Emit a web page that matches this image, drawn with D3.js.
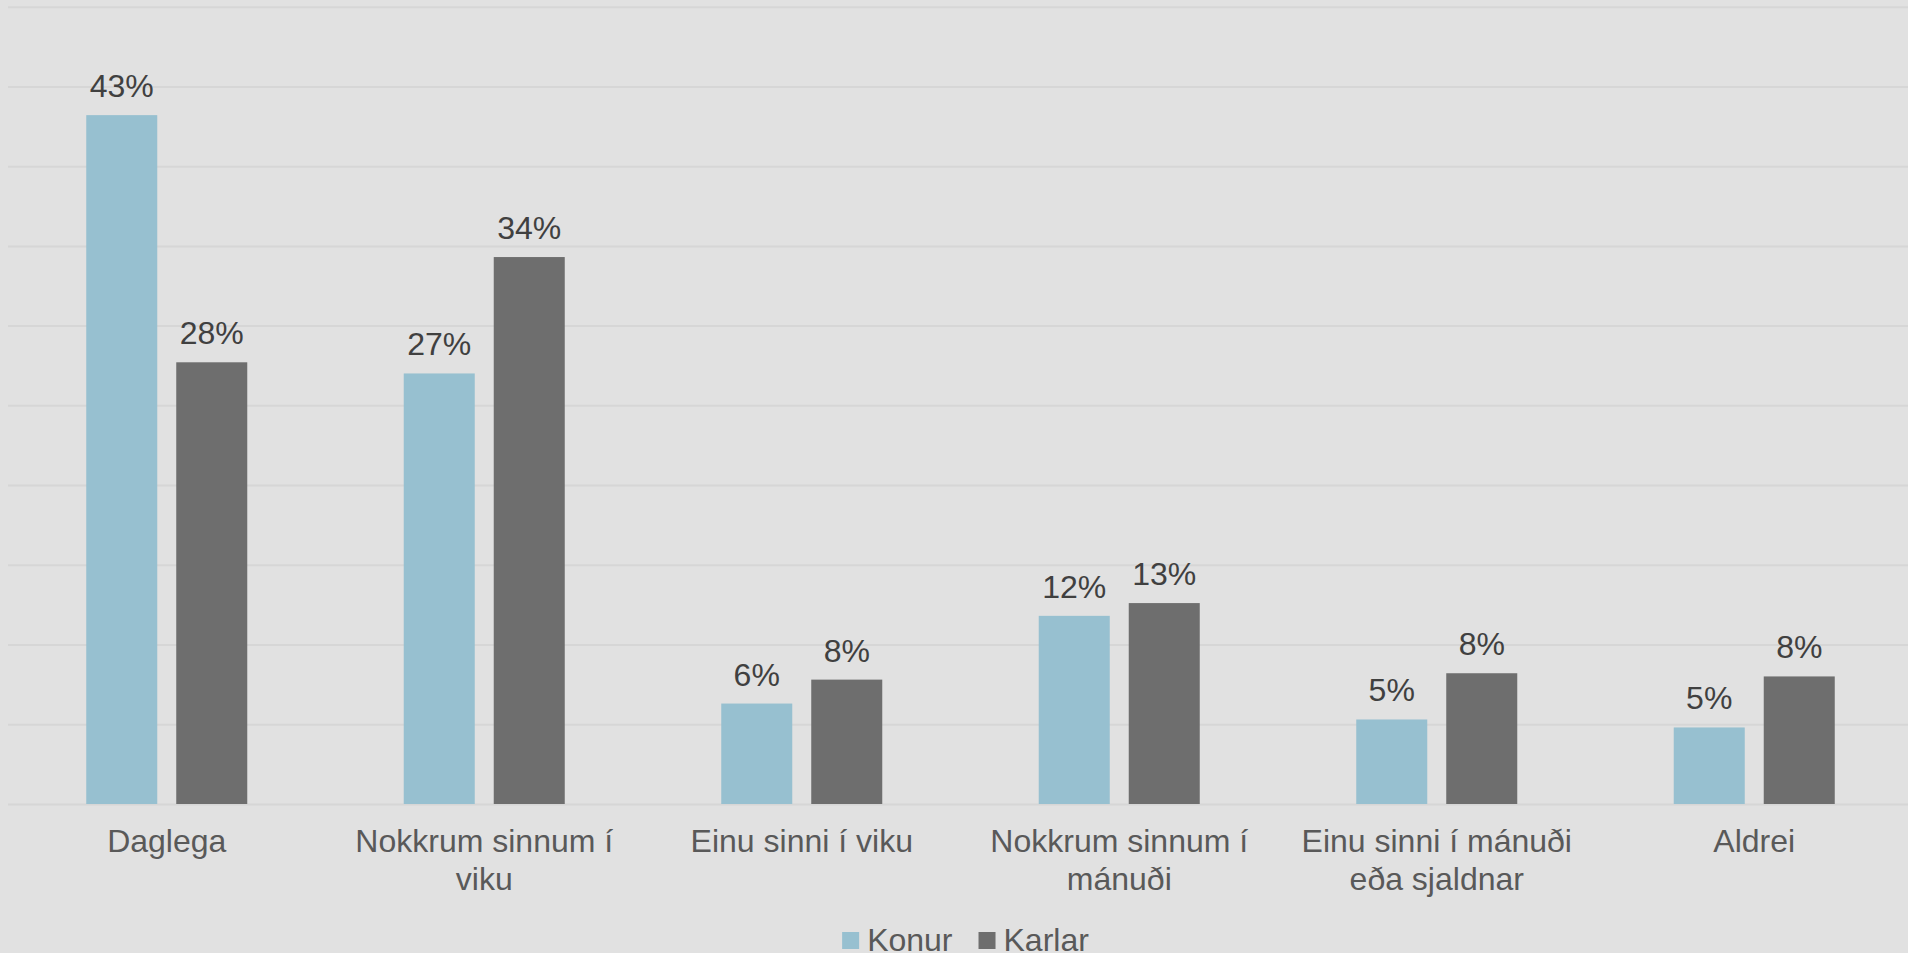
<!DOCTYPE html>
<html>
<head>
<meta charset="utf-8">
<script src="https://cdn.jsdelivr.net/npm/d3@7"></script>
<style>
  html, body { margin: 0; padding: 0; background: #e1e1e1; overflow: hidden; }
  svg { display: block; font-family: "Liberation Sans", Arial, sans-serif; }
</style>
</head>
<body>
<div id="chart"></div>
<script>
var width = 1908,
    height = 953;

// data (percent)
var categories = ['Daglega', 'Nokkrum sinnum í viku', 'Einu sinni í viku',
                  'Nokkrum sinnum í mánuði', 'Einu sinni í mánuði eða sjaldnar', 'Aldrei'];
var seriesNames = ['Konur', 'Karlar'];
var konur = [43.2, 27.0, 6.3, 11.8, 5.3, 4.8];
var karlar = [27.7, 34.3, 7.8, 12.6, 8.2, 8.0];
var yTicks = [0, 5, 10, 15, 20, 25, 30, 35, 40, 45, 50];

var colors = { Konur: '#97c0d0', Karlar: '#6e6e6e' };

var rows = categories.map(function(c, i) {
  return { cat: c, Konur: konur[i], Karlar: karlar[i] };
});

var plotLeft = 8, plotRight = 1913, plotTop = 6.7, plotBottom = 804;
var fontSize = '32px';

var x0 = d3.scaleBand()
    .domain(categories)
    .range([plotLeft, plotRight])
    .paddingInner(0)
    .paddingOuter(0);

var x1 = d3.scaleBand()
    .domain(seriesNames)
    .range([0, x0.bandwidth()])
    .paddingInner(0.2111)
    .paddingOuter(0.8694);

var y = d3.scaleLinear()
    .domain([0, 50])
    .range([plotBottom, plotTop]);

var svg = d3.select('#chart').append('svg')
    .attr('width', width)
    .attr('height', height);

svg.append('rect')
    .attr('width', width)
    .attr('height', height)
    .attr('fill', '#e1e1e1');

// gridlines
var grid = svg.append('g')
    .attr('transform', 'translate(' + plotLeft + ',0)')
    .call(d3.axisLeft(y)
      .tickValues(yTicks)
      .tickSize(-(width - plotLeft))
      .tickFormat(''));
grid.select('.domain').remove();
grid.selectAll('.tick line')
    .attr('stroke', '#d6d6d6')
    .attr('stroke-width', 2);

// bars
var groups = svg.selectAll('.grp')
    .data(rows)
    .enter().append('g')
    .attr('class', 'grp')
    .attr('transform', function(d) { return 'translate(' + x0(d.cat) + ',0)'; });

groups.selectAll('rect')
    .data(function(d) { return seriesNames.map(function(s) { return { key: s, value: d[s] }; }); })
    .enter().append('rect')
    .attr('x', function(d) { return x1(d.key); })
    .attr('y', function(d) { return y(d.value); })
    .attr('width', x1.bandwidth())
    .attr('height', function(d) { return plotBottom - y(d.value); })
    .attr('fill', function(d) { return colors[d.key]; });

// value labels
groups.selectAll('.val')
    .data(function(d) { return seriesNames.map(function(s) { return { key: s, value: d[s] }; }); })
    .enter().append('text')
    .attr('class', 'val')
    .attr('x', function(d) { return x1(d.key) + x1.bandwidth() / 2; })
    .attr('y', function(d) { return y(d.value) - 18; })
    .attr('text-anchor', 'middle')
    .attr('font-size', fontSize)
    .attr('fill', '#404040')
    .text(function(d) { return Math.round(d.value) + '%'; });

// category labels
var xAxis = svg.append('g')
    .attr('transform', 'translate(0,' + plotBottom + ')')
    .call(d3.axisBottom(x0).tickSize(0).tickPadding(0));
xAxis.select('.domain').remove();
xAxis.selectAll('.tick text')
    .attr('font-size', fontSize)
    .attr('font-family', '"Liberation Sans", Arial, sans-serif')
    .attr('fill', '#595959')
    .attr('dy', null)
    .attr('y', 48)
    .call(wrap, 295);

function wrap(text, w) {
  text.each(function() {
    var t = d3.select(this),
        words = t.text().split(/\s+/),
        line = [],
        lines = [];
    t.text(null);
    var probe = t.append('tspan');
    words.forEach(function(word) {
      line.push(word);
      probe.text(line.join(' '));
      if (probe.node().getComputedTextLength() > w && line.length > 1) {
        line.pop();
        lines.push(line.join(' '));
        line = [word];
      }
    });
    lines.push(line.join(' '));
    probe.remove();
    lines.forEach(function(l, i) {
      t.append('tspan')
        .attr('x', 0)
        .attr('y', 48 + i * 38)
        .text(l);
    });
  });
}

// legend
var legend = svg.append('g');
var lx = 0;
seriesNames.forEach(function(s, i) {
  var item = legend.append('g').attr('transform', 'translate(' + lx + ',0)');
  item.append('rect')
    .attr('x', 0)
    .attr('y', 932)
    .attr('width', 17)
    .attr('height', 17)
    .attr('fill', colors[s]);
  var t = item.append('text')
    .attr('x', 25)
    .attr('y', 950.5)
    .attr('font-size', fontSize)
    .attr('fill', '#595959')
    .text(s);
  lx += 25 + t.node().getComputedTextLength() + 26;
});
var legendW = lx - 26;
legend.attr('transform', 'translate(' + (965.5 - legendW / 2) + ',0)');
</script>
</body>
</html>
